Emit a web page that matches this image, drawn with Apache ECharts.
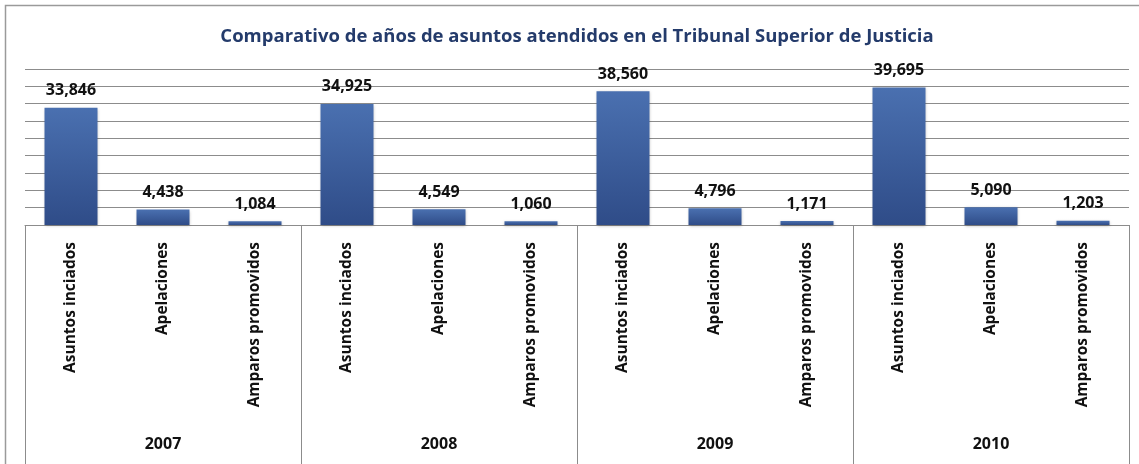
<!DOCTYPE html>
<html>
<head>
<meta charset="utf-8">
<script src="https://cdn.jsdelivr.net/npm/echarts@6/dist/echarts.min.js"></script>
<style>
html,body{margin:0;padding:0;background:#fff;}
#chart{width:1139px;height:464px;}
</style>
</head>
<body>
<div id="chart"></div>
<script>
var titleText = 'Comparativo de años de asuntos atendidos en el Tribunal Superior de Justicia';
var years = ['2007', '2008', '2009', '2010'];
var subCategories = ['Asuntos inciados', 'Apelaciones', 'Amparos promovidos'];
var values2007 = [33846, 4438, 1084];
var values2008 = [34925, 4549, 1060];
var values2009 = [38560, 4796, 1171];
var values2010 = [39695, 5090, 1203];

var categories = [];
years.forEach(function () { subCategories.forEach(function (c) { categories.push(c); }); });
var values = [].concat(values2007, values2008, values2009, values2010);

var FONT = 'Open Sans';
var gridColor = '#8c8c8c';

var chart = echarts.init(document.getElementById('chart'), null, {renderer: 'canvas'});
chart.setOption({
  animation: false,
  backgroundColor: '#ffffff',
  title: {
    text: titleText,
    left: 572,
    top: 22,
    textAlign: 'center',
    textStyle: {fontFamily: FONT, fontWeight: 'bold', fontSize: 18.5, color: '#243b6b'}
  },
  graphic: [{
    type: 'rect',
    shape: {x: 5.5, y: 5.5, width: 1300, height: 600},
    style: {fill: 'none', stroke: '#9a9a9a', lineWidth: 1.5},
    silent: true,
    z: -1
  }],
  grid: {left: 25, right: 10, top: 69, bottom: 239, containLabel: false},
  xAxis: [{
    type: 'category',
    data: categories,
    position: 'bottom',
    axisLine: {show: true, lineStyle: {color: gridColor, width: 1}},
    axisTick: {show: false},
    axisLabel: {
      rotate: 90, margin: 17, interval: 0,
      fontFamily: FONT, fontWeight: 'bold', fontSize: 15.5, color: '#111'
    }
  }, {
    type: 'category',
    data: years,
    position: 'bottom',
    axisLine: {show: false},
    axisTick: {show: true, length: 240, lineStyle: {color: gridColor, width: 1}},
    axisLabel: {
      margin: 211, interval: 0,
      fontFamily: FONT, fontWeight: 'bold', fontSize: 16, color: '#111'
    }
  }],
  yAxis: {
    type: 'value',
    min: 0, max: 45000, interval: 5000,
    axisLine: {show: false},
    axisTick: {show: false},
    axisLabel: {show: false},
    splitLine: {show: true, lineStyle: {color: gridColor, width: 1}}
  },
  series: [{
    type: 'bar',
    xAxisIndex: 0,
    data: values,
    barWidth: 53,
    itemStyle: {
      color: new echarts.graphic.LinearGradient(0, 0, 0, 1, [
        {offset: 0, color: '#4a70b0'},
        {offset: 1, color: '#2f4c88'}
      ]),
      shadowColor: 'rgba(0,0,0,0.25)',
      shadowBlur: 3,
      shadowOffsetY: 1
    },
    label: {
      show: true,
      position: 'top',
      distance: 9,
      fontFamily: FONT, fontWeight: 'bold', fontSize: 16, color: '#111',
      formatter: function (p) { return p.value.toLocaleString('en-US'); }
    }
  }]
});
</script>
</body>
</html>
